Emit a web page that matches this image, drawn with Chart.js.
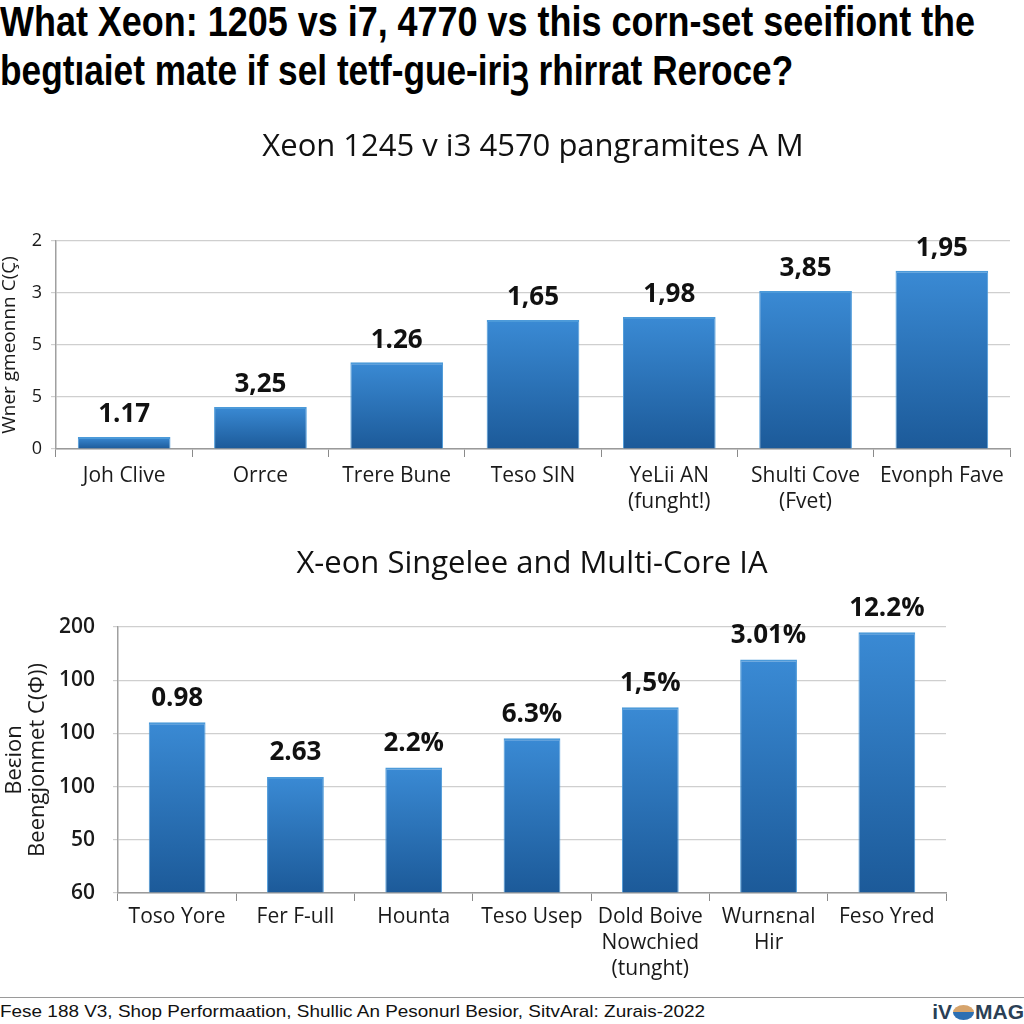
<!DOCTYPE html>
<html><head><meta charset="utf-8">
<script src="https://cdn.jsdelivr.net/npm/chart.js@4"></script>
<style>
html,body{margin:0;padding:0;background:#fff;}
body{width:1024px;height:1024px;position:relative;overflow:hidden;}
.fit{position:absolute;left:0;white-space:nowrap;transform-origin:0 50%;}
#h1,#h2{font:bold 42px "Liberation Sans Narrow","Liberation Sans",Arial,sans-serif;color:#000;line-height:48px;height:48px;}
#h1{top:-2px;} #h2{top:47px;}
#foot{font:17px "Liberation Sans Narrow","Liberation Sans",Arial,sans-serif;color:#111;top:1001px;line-height:22px;}
#rule{position:absolute;left:0;top:997px;width:1024px;height:1px;background:#9a9a9a;}
#logo{position:absolute;right:0;top:1000px;font:bold 21px "Liberation Sans",Arial,sans-serif;color:#2b3f55;line-height:24px;white-space:nowrap;}
#logo .em{display:inline-block;width:21px;height:15px;border-radius:50%;background:linear-gradient(#d6a46c 50%,#2c6fb2 50%);vertical-align:-1px;margin:0 1px;}
.wrap{position:absolute;left:0;width:1024px;}
</style></head>
<body>
<div id="h1" class="fit">What Xeon: 1205 vs i7, 4770 vs this corn-set seeifiont the</div>
<div id="h2" class="fit">begtıaiet mate if sel tetf-gue-iriꝫ rhirrat Reroce?</div>
<div class="wrap" style="top:110px;height:420px;"><canvas id="c1"></canvas></div>
<div class="wrap" style="top:530px;height:460px;"><canvas id="c2"></canvas></div>
<div id="rule"></div>
<div id="foot" class="fit">Fese 188 V3, Shop Performaation, Shullic An Pesonurl Besior, SitvAral: Zurais-2022</div>
<div id="logo">iV<span class="em"></span>MAG</div>
<script>
// ---- Chart 1 data ----
const categories1 = ["Joh Clive", "Orrce", "Trere Bune", "Teso SIN", ["YeLii AN", "(funght!)"], ["Shulti Cove", "(Fvet)"], "Evonph Fave"];
const values1 = [0.23, 0.81, 1.67, 2.48, 2.54, 3.04, 3.43];
const valueLabels1 = ["1.17", "3,25", "1.26", "1,65", "1,98", "3,85", "1,95"];
const yTicks1 = ["0", "5", "5", "3", "2"];
const title1 = "Xeon 1245 v i3 4570 pangramites A M";
const yTitle1 = "Wner gmeonnn C(Ç)";

// ---- Chart 2 data ----
const categories2 = ["Toso Yore", "Fer F-ull", "Hounta", "Teso Usep", ["Dold Boive", "Nowchied", "(tunght)"], ["Wurnɛnal", "Hir"], "Feso Yred"];
const values2 = [3.21, 2.18, 2.36, 2.91, 3.49, 4.39, 4.90];
const valueLabels2 = ["0.98", "2.63", "2.2%", "6.3%", "1,5%", "3.01%", "12.2%"];
const yTicks2 = ["60", "50", "100", "100", "100", "200"];
const title2 = "X-eon Singelee and Multi-Core IA";
const yTitle2 = ["Beɛion", "Beengjonmet C(Φ))"];

const FONT = '"Open Sans","Noto Sans","Liberation Sans",Arial,sans-serif';

function fitText(id, target){
  const el = document.getElementById(id);
  el.style.transform = 'none';
  const w = el.offsetWidth;
  if (w > 0) el.style.transform = 'scaleX(' + (target / w) + ')';
}

const valueLabelPlugin = {
  id: 'valueLabels',
  afterDatasetsDraw(chart, args, opts){
    const ctx = chart.ctx;
    const meta = chart.getDatasetMeta(0);
    ctx.save();
    ctx.font = opts.font;
    ctx.fillStyle = opts.color;
    ctx.textAlign = 'center';
    ctx.textBaseline = 'middle';
    meta.data.forEach((bar, i) => ctx.fillText(opts.labels[i], bar.x, bar.y - opts.offset));
    ctx.restore();
  }
};

function barGradient(c){
  const chart = c.chart;
  const y = chart.scales && chart.scales.y;
  if (!chart.chartArea || !y || !c.parsed) return '#2a6fb5';
  const top = y.getPixelForValue(c.parsed.y);
  const bot = y.getPixelForValue(0);
  const g = chart.ctx.createLinearGradient(0, top, 0, bot);
  g.addColorStop(0, '#3a8ad4');
  g.addColorStop(1, '#1c5a99');
  return g;
}

function makeChart(id, cfg){
  return new Chart(document.getElementById(id), {
    type: 'bar',
    data: {
      labels: cfg.categories,
      datasets: [{
        data: cfg.values,
        backgroundColor: barGradient,
        borderColor: '#4c9ad9',
        borderWidth: {top: 2, left: 1, right: 1, bottom: 0},
        borderSkipped: false,
        barPercentage: cfg.barPct,
        categoryPercentage: 1
      }]
    },
    plugins: [valueLabelPlugin],
    options: {
      responsive: true,
      maintainAspectRatio: false,
      animation: false,
      events: [],
      layout: {padding: {left: 0, right: cfg.padRight, top: 0, bottom: 0}},
      plugins: {
        legend: {display: false},
        tooltip: {enabled: false},
        title: {
          display: true, text: cfg.title, color: '#111', fullSize: false,
          font: {family: FONT, size: 31, weight: 'normal', lineHeight: 1.2},
          padding: {top: cfg.titleTop, bottom: cfg.titleBottom}
        },
        valueLabels: {labels: cfg.valueLabels, font: 'bold 26px ' + FONT, color: '#111', offset: cfg.labelOffset}
      },
      scales: {
        x: {
          offset: true,
          grid: {offset: true, drawOnChartArea: false, drawTicks: true, tickLength: 8, color: '#8a8a8a'},
          border: {display: true, color: '#9a9a9a', width: 1.5},
          ticks: {color: '#1a1a1a', font: {family: FONT, size: 21, lineHeight: 1.24}, padding: cfg.xPad, maxRotation: 0, autoSkip: false},
          afterFit: s => { s.height = cfg.xHeight; }
        },
        y: {
          min: 0, max: cfg.yTicks.length - 1,
          grid: {color: '#cfcfcf', lineWidth: 1.2, drawTicks: true, tickLength: 5},
          border: {display: true, color: '#a0a0a0', width: 1.5},
          ticks: {
            stepSize: 1, color: '#1a1a1a',
            font: {family: FONT, size: cfg.yTickSize, weight: cfg.yTickWeight},
            padding: cfg.yPad,
            callback: (v, i) => cfg.yTicks[i]
          },
          title: {
            display: true, text: cfg.yTitle, color: '#1a1a1a',
            font: {family: FONT, size: cfg.yTitleSize, lineHeight: cfg.yTitleLH},
            padding: {top: cfg.yTitlePad, bottom: 0}
          },
          afterFit: s => { s.width = cfg.yWidth; }
        }
      }
    }
  });
}

function build(){
  fitText('h1', 975);
  fitText('h2', 793);
  fitText('foot', 705);
  makeChart('c1', {
    categories: categories1, values: values1, valueLabels: valueLabels1, yTicks: yTicks1,
    title: title1, yTitle: yTitle1, barPct: 0.68, padRight: 14,
    titleTop: 19, titleBottom: 74.8, xHeight: 81, xPad: 6, yWidth: 56, yPad: 9,
    yTickSize: 18, yTickWeight: 'normal', yTitleSize: 19, yTitleLH: 1.0, yTitlePad: 0, labelOffset: 22
  });
  makeChart('c2', {
    categories: categories2, values: values2, valueLabels: valueLabels2, yTicks: yTicks2,
    title: title2, yTitle: yTitle2, barPct: 0.48, padRight: 78,
    titleTop: 16, titleBottom: 43.8, xHeight: 97, xPad: 3, yWidth: 118, yPad: 18,
    yTickSize: 21, yTickWeight: '600', yTitleSize: 22, yTitleLH: 1.05, yTitlePad: 3.5, labelOffset: 24
  });
}
if (document.fonts && document.fonts.ready) document.fonts.ready.then(build); else build();
</script>
</body></html>
